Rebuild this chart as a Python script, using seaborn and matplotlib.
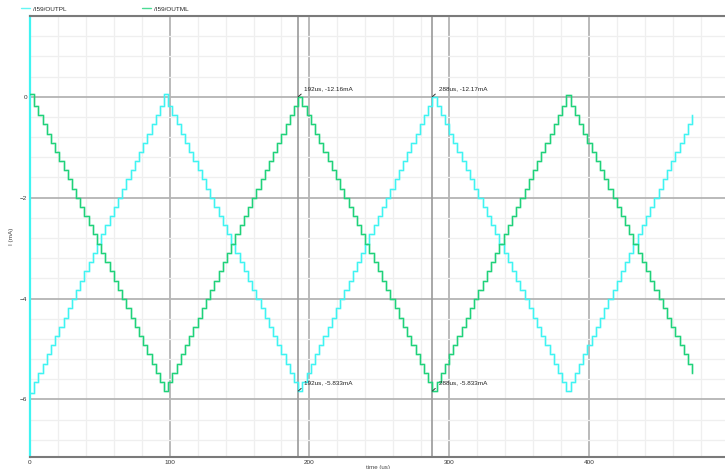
import numpy as np
import pandas as pd
import matplotlib
matplotlib.use('Agg')
import matplotlib.pyplot as plt
import seaborn as sns
from matplotlib.ticker import MultipleLocator, FixedLocator

# ---------------- data ----------------
series_names = ['/I59/OUTPL', '/I59/OUTML']
step_us = 3  # one DAC step every 3 us

outpl_ma = [
    -5.88, -5.65, -5.47, -5.29, -5.10, -4.92, -4.74, -4.56, -4.38, -4.19, -4.01,
    -3.83, -3.65, -3.46, -3.28, -3.10, -2.92, -2.73, -2.55, -2.37, -2.19, -2.01,
    -1.82, -1.64, -1.46, -1.28, -1.09, -0.91, -0.73, -0.55, -0.36, -0.18, 0.05,
    -0.18, -0.36, -0.55, -0.73, -0.91, -1.09, -1.28, -1.46, -1.64, -1.82, -2.01,
    -2.19, -2.37, -2.55, -2.73, -2.92, -3.10, -3.28, -3.46, -3.65, -3.83, -4.01,
    -4.19, -4.38, -4.56, -4.74, -4.92, -5.10, -5.29, -5.47, -5.65, -5.83,
    -5.65, -5.47, -5.29, -5.10, -4.92, -4.74, -4.56, -4.38, -4.19, -4.01, -3.83,
    -3.65, -3.46, -3.28, -3.10, -2.92, -2.73, -2.55, -2.37, -2.19, -2.01, -1.82,
    -1.64, -1.46, -1.28, -1.09, -0.91, -0.73, -0.55, -0.36, -0.18, 0.00,
    -0.18, -0.36, -0.55, -0.73, -0.91, -1.09, -1.28, -1.46, -1.64, -1.82, -2.01,
    -2.19, -2.37, -2.55, -2.73, -2.92, -3.10, -3.28, -3.46, -3.65, -3.83, -4.01,
    -4.19, -4.38, -4.56, -4.74, -4.92, -5.10, -5.29, -5.47, -5.65, -5.83,
    -5.65, -5.47, -5.29, -5.10, -4.92, -4.74, -4.56, -4.38, -4.19, -4.01, -3.83,
    -3.65, -3.46, -3.28, -3.10, -2.92, -2.73, -2.55, -2.37, -2.19, -2.01, -1.82,
    -1.64, -1.46, -1.28, -1.09, -0.91, -0.73, -0.55, -0.36,
]

outml_ma = [
    0.05, -0.18, -0.36, -0.55, -0.73, -0.91, -1.09, -1.28, -1.46, -1.64, -1.82,
    -2.01, -2.19, -2.37, -2.55, -2.73, -2.92, -3.10, -3.28, -3.46, -3.65, -3.83,
    -4.01, -4.19, -4.38, -4.56, -4.74, -4.92, -5.10, -5.29, -5.47, -5.65, -5.83,
    -5.65, -5.47, -5.29, -5.10, -4.92, -4.74, -4.56, -4.38, -4.19, -4.01, -3.83,
    -3.65, -3.46, -3.28, -3.10, -2.92, -2.73, -2.55, -2.37, -2.19, -2.01, -1.82,
    -1.64, -1.46, -1.28, -1.09, -0.91, -0.73, -0.55, -0.36, -0.18, 0.00,
    -0.18, -0.36, -0.55, -0.73, -0.91, -1.09, -1.28, -1.46, -1.64, -1.82, -2.01,
    -2.19, -2.37, -2.55, -2.73, -2.92, -3.10, -3.28, -3.46, -3.65, -3.83, -4.01,
    -4.19, -4.38, -4.56, -4.74, -4.92, -5.10, -5.29, -5.47, -5.65, -5.83,
    -5.65, -5.47, -5.29, -5.10, -4.92, -4.74, -4.56, -4.38, -4.19, -4.01, -3.83,
    -3.65, -3.46, -3.28, -3.10, -2.92, -2.73, -2.55, -2.37, -2.19, -2.01, -1.82,
    -1.64, -1.46, -1.28, -1.09, -0.91, -0.73, -0.55, -0.36, -0.18, 0.03,
    -0.18, -0.36, -0.55, -0.73, -0.91, -1.09, -1.28, -1.46, -1.64, -1.82, -2.01,
    -2.19, -2.37, -2.55, -2.73, -2.92, -3.10, -3.28, -3.46, -3.65, -3.83, -4.01,
    -4.19, -4.38, -4.56, -4.74, -4.92, -5.10, -5.29, -5.47,
]

x_ticks = [0, 100, 200, 300, 400]
y_ticks = [0, -2, -4, -6]
marker_times = [192, 192, 288, 288]
marker_values = [0.0, -5.833, 0.0, -5.833]
marker_labels = ['192us, -12.16mA', '192us, -5.833mA',
                 '288us, -12.17mA', '288us, -5.833mA']

# ---------------- style ----------------
sns.set_style('white')
plt.rcParams['font.family'] = ['Liberation Sans', 'DejaVu Sans']

n = len(outpl_ma)
time_us = np.arange(n) * step_us
df = pd.DataFrame({
    'time': np.concatenate([time_us, time_us]),
    'current': outpl_ma + outml_ma,
    'signal': [series_names[0]] * n + [series_names[1]] * n,
})

palette = {series_names[0]: '#3ff4f2', series_names[1]: '#1fd27a'}

fig = plt.figure(figsize=(7.25, 4.69), dpi=100)
ax = fig.add_axes([30 / 725, 1 - 457 / 469, 695 / 725, 441 / 469])

# soft halo (glitchy step edges) + crisp trace
sns.lineplot(data=df, x='time', y='current', hue='signal', palette=palette,
             drawstyle='steps-post', linewidth=2.0, alpha=0.25,
             estimator=None, legend=False, ax=ax, zorder=3)
sns.lineplot(data=df, x='time', y='current', hue='signal', palette=palette,
             drawstyle='steps-post', linewidth=0.9,
             estimator=None, legend=False, ax=ax, zorder=4)

ax.set_xlim(0, 497.5)
ax.set_ylim(-7.14, 1.6)

ax.xaxis.set_major_locator(FixedLocator(x_ticks))
ax.yaxis.set_major_locator(FixedLocator(y_ticks))
ax.xaxis.set_minor_locator(MultipleLocator(20))
ax.yaxis.set_minor_locator(MultipleLocator(0.4))

ax.set_axisbelow(True)
ax.grid(which='minor', color='#efefef', linewidth=0.9)
ax.grid(which='major', color='#b4b4b4', linewidth=1.3)

for t in sorted(set(marker_times)):
    ax.axvline(t, color='#9a9a9a', linewidth=1.2, zorder=2)

for t, v, lab in zip(marker_times, marker_values, marker_labels):
    ax.annotate(lab, xy=(t, v), xytext=(4.5, 4.0), textcoords='offset points',
                fontsize=4.6, color='#222222', va='bottom', ha='left',
                arrowprops=dict(arrowstyle='-', color='#333333', lw=0.7,
                                shrinkA=0, shrinkB=0, relpos=(0, 0)),
                zorder=6)

ax.tick_params(which='both', direction='in', length=2.5, width=0.8,
               color='#555555', labelsize=4.6, labelcolor='#333333', pad=2)
ax.tick_params(which='minor', length=2.0)

for side in ['top', 'bottom']:
    ax.spines[side].set_color('#7a7a7a')
    ax.spines[side].set_linewidth(1.5)
ax.spines['right'].set_visible(False)
ax.spines['left'].set_color('#3ff4f2')
ax.spines['left'].set_linewidth(1.6)

ax.set_xlabel('time (us)', fontsize=4.4, color='#444444', labelpad=0)
ax.set_ylabel('I (mA)', fontsize=4.6, color='#444444', labelpad=4)

handles = [plt.Line2D([], [], color=palette[s], linewidth=1.0, alpha=0.8)
           for s in series_names]
fig.legend(handles, series_names, loc='center left',
           bbox_to_anchor=(21 / 725, 1 - 9 / 469), ncol=2, frameon=False,
           fontsize=4.6, handlelength=1.4, handletextpad=0.5,
           columnspacing=11.8, borderpad=0, borderaxespad=0)

fig.savefig('out.png', dpi=100)
